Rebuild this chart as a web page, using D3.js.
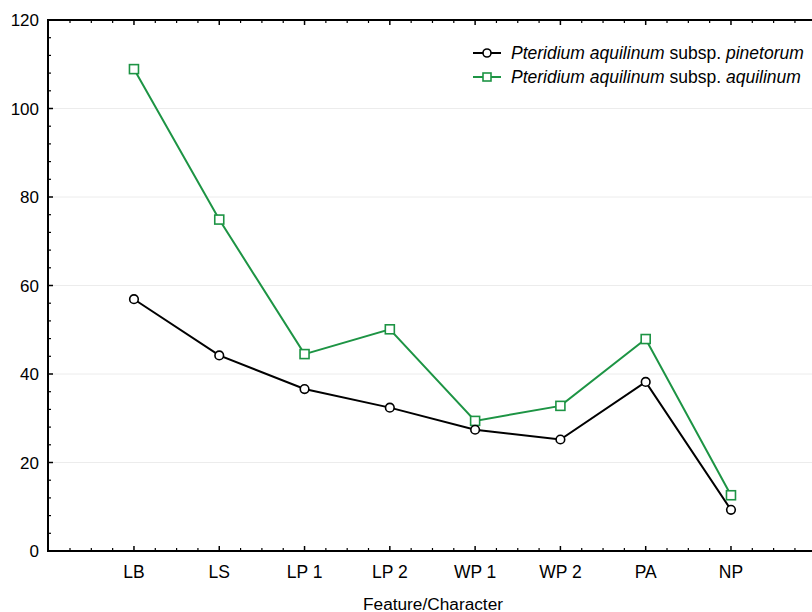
<!DOCTYPE html>
<html>
<head>
<meta charset="utf-8">
<script src="https://cdn.jsdelivr.net/npm/d3@7"></script>
<style>
  body { margin: 0; background: #fff; }
  svg { font-family: "Liberation Sans", Arial, sans-serif; }
</style>
</head>
<body>
<svg width="812" height="612"></svg>
<script>
const categories = ["LB", "LS", "LP 1", "LP 2", "WP 1", "WP 2", "PA", "NP"];
const pinetorum = [56.9, 44.2, 36.6, 32.4, 27.4, 25.2, 38.2, 9.3];
const aquilinum = [108.9, 74.9, 44.5, 50.1, 29.4, 32.8, 47.9, 12.6];
const yTicks = [0, 20, 40, 60, 80, 100, 120];

const svg = d3.select("svg");
const mLeft = 48, mRight = 812, mTop = 20, mBottom = 551;

// category i sits at 134 + 85.3*i
const x = d3.scaleLinear().domain([-1.008, 7.95]).range([mLeft, mRight]);
const y = d3.scaleLinear().domain([0, 120]).range([mBottom, mTop]);
const green = "#1d9444";

// faint gridlines
svg.append("g").selectAll("line")
  .data(yTicks.filter(d => d > 0 && d < 120))
  .join("line")
  .attr("x1", mLeft).attr("x2", mRight)
  .attr("y1", d => y(d)).attr("y2", d => y(d))
  .attr("stroke", "#ececec").attr("stroke-width", 1);

// minor/major ticks
const xMinor = d3.range(-0.75, 7.95, 0.25);
const yMinor = d3.range(4, 120, 4);

const axisG = svg.append("g").attr("stroke", "#000");
axisG.selectAll(".xb").data(xMinor).join("line")
  .attr("x1", d => x(d)).attr("x2", d => x(d))
  .attr("y1", mBottom).attr("y2", d => mBottom - (Number.isInteger(d) ? 5 : 3))
  .attr("stroke-width", d => Number.isInteger(d) ? 1.5 : 1.2);
axisG.selectAll(".xt").data(xMinor).join("line")
  .attr("x1", d => x(d)).attr("x2", d => x(d))
  .attr("y1", mTop).attr("y2", d => mTop + (Number.isInteger(d) ? 5 : 3))
  .attr("stroke-width", d => Number.isInteger(d) ? 1.5 : 1.2);
axisG.selectAll(".yl").data(yMinor).join("line")
  .attr("x1", mLeft).attr("x2", d => mLeft + (d % 20 === 0 ? 5 : 3))
  .attr("y1", d => y(d)).attr("y2", d => y(d))
  .attr("stroke-width", d => d % 20 === 0 ? 1.5 : 1.2);

// axis frame: left, bottom, top
svg.append("path")
  .attr("d", `M${mRight},${mTop}H${mLeft}V${mBottom}H${mRight}`)
  .attr("fill", "none").attr("stroke", "#000").attr("stroke-width", 2);

// y labels
svg.append("g").selectAll("text").data(yTicks).join("text")
  .attr("x", mLeft - 9).attr("y", d => y(d)).attr("dy", "0.36em")
  .attr("text-anchor", "end").attr("font-size", 17).text(d => d);

// x labels
svg.append("g").selectAll("text").data(categories).join("text")
  .attr("x", (d, i) => x(i)).attr("y", mBottom + 27)
  .attr("text-anchor", "middle").attr("font-size", 17.5).text(d => d);

svg.append("text").attr("x", 363).attr("y", 610)
  .attr("font-size", 16).attr("textLength", 140).attr("lengthAdjust", "spacingAndGlyphs")
  .text("Feature/Character");

const line = d3.line().x((d, i) => x(i)).y(d => y(d));

svg.append("path").datum(aquilinum).attr("d", line)
  .attr("fill", "none").attr("stroke", green).attr("stroke-width", 2);
svg.append("path").datum(pinetorum).attr("d", line)
  .attr("fill", "none").attr("stroke", "#000").attr("stroke-width", 2);

svg.append("g").selectAll("rect").data(aquilinum).join("rect")
  .attr("x", (d, i) => x(i) - 4.5).attr("y", d => y(d) - 4.5)
  .attr("width", 9).attr("height", 9)
  .attr("fill", "#fff").attr("stroke", green).attr("stroke-width", 1.6);
svg.append("g").selectAll("circle").data(pinetorum).join("circle")
  .attr("cx", (d, i) => x(i)).attr("cy", d => y(d)).attr("r", 4.3)
  .attr("fill", "#fff").attr("stroke", "#000").attr("stroke-width", 1.6);

// legend
const legend = svg.append("g").attr("font-size", 17.5);
const items = [
  { color: "#000", shape: "circle", it1: "Pteridium aquilinum", mid: " subsp. ", it2: "pinetorum" },
  { color: green, shape: "square", it1: "Pteridium aquilinum", mid: " subsp. ", it2: "aquilinum" }
];
items.forEach((d, i) => {
  const yy = 53 + i * 24;
  legend.append("line").attr("x1", 473).attr("x2", 501).attr("y1", yy).attr("y2", yy)
    .attr("stroke", d.color).attr("stroke-width", 2);
  if (d.shape === "circle") {
    legend.append("circle").attr("cx", 487).attr("cy", yy).attr("r", 4)
      .attr("fill", "#fff").attr("stroke", d.color).attr("stroke-width", 1.6);
  } else {
    legend.append("rect").attr("x", 483).attr("y", yy - 4).attr("width", 8).attr("height", 8)
      .attr("fill", "#fff").attr("stroke", d.color).attr("stroke-width", 1.6);
  }
  const t = legend.append("text").attr("x", 511).attr("y", yy).attr("dy", "0.36em");
  t.append("tspan").attr("font-style", "italic").text(d.it1);
  t.append("tspan").text(d.mid);
  t.append("tspan").attr("font-style", "italic").text(d.it2);
});
</script>
</body>
</html>
